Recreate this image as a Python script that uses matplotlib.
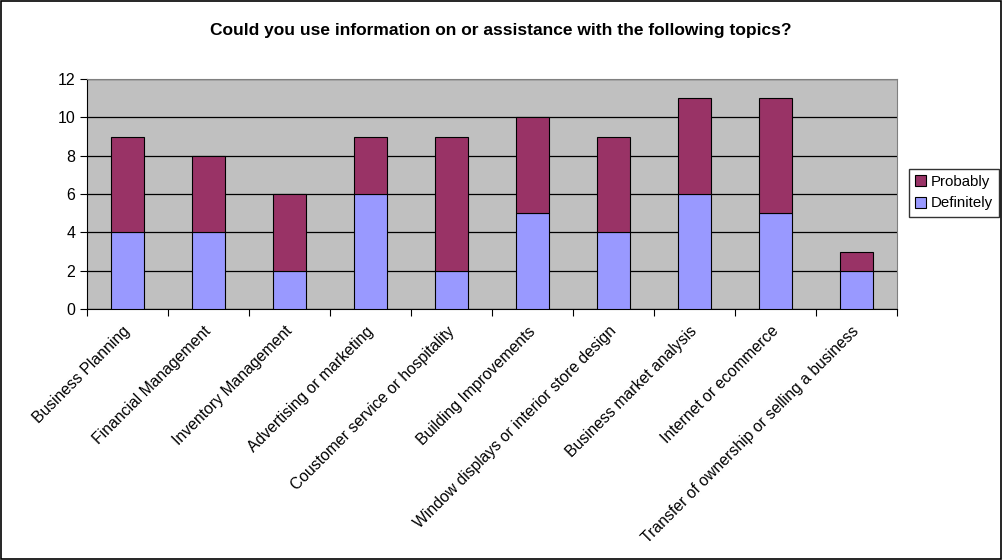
import matplotlib.pyplot as plt
import numpy as np
from matplotlib.transforms import ScaledTranslation

plt.rcParams['font.family'] = ['Liberation Sans', 'DejaVu Sans']

topics = ['Business Planning', 'Financial Management', 'Inventory Management',
          'Advertising or marketing', 'Coustomer service or hospitality',
          'Building Improvements', 'Window displays or interior store design',
          'Business market analysis', 'Internet or ecommerce',
          'Transfer of ownership or selling a business']
definitely = [4, 4, 2, 6, 2, 5, 4, 6, 5, 2]
probably = [5, 4, 4, 3, 7, 5, 5, 5, 6, 1]

fig = plt.figure(figsize=(10.02, 5.6), dpi=100)
ax = fig.add_axes([87 / 1002, 1 - 309 / 560, 810 / 1002, 230 / 560])
ax.set_facecolor('#C0C0C0')

x = np.arange(len(topics))
b1 = ax.bar(x, definitely, width=0.41, color='#9999FF', edgecolor='black',
            linewidth=0.8, label='Definitely', zorder=3)
b2 = ax.bar(x, probably, width=0.41, bottom=definitely, color='#993366',
            edgecolor='black', linewidth=0.8, label='Probably', zorder=3)

ax.set_xlim(-0.5, len(topics) - 0.5)
ax.set_ylim(0, 12)
ax.set_yticks(range(0, 13, 2))
ax.yaxis.grid(True, color='black', linewidth=0.9, zorder=1)
ax.set_axisbelow(True)

# category ticks sit between bars, like Excel
ax.set_xticks(np.arange(-0.5, len(topics), 1.0))
ax.set_xticklabels([])
ax.set_xticks(x, minor=True)
ax.set_xticklabels(topics, minor=True, rotation=45, ha='right',
                   rotation_mode='anchor', fontsize=11.3)
ax.tick_params(axis='x', which='minor', length=0, pad=9)
ax.tick_params(axis='x', which='major', length=5, direction='out', color='black')
ax.tick_params(axis='y', length=5, direction='out', labelsize=11.5)
shift = ScaledTranslation(-5 / 100, -2 / 100, fig.dpi_scale_trans)
for lbl in ax.get_xticklabels(minor=True):
    lbl.set_transform(lbl.get_transform() + shift)

for s in ['top', 'right']:
    ax.spines[s].set_color('#808080')
for s in ['left', 'bottom']:
    ax.spines[s].set_color('black')

fig.text(0.5, 1 - 31 / 560, 'Could you use information on or assistance with the following topics?',
         ha='center', va='center', fontsize=12.5, fontweight='bold')

fig.legend([b2, b1], ['Probably', 'Definitely'], loc='upper left',
           bbox_to_anchor=(909 / 1002, 1 - 169 / 560), fontsize=10.8,
           frameon=True, fancybox=False, edgecolor='black', handlelength=0.75,
           handleheight=0.75, handletextpad=0.3, borderpad=0.4, labelspacing=0.5,
           borderaxespad=0)

fig.patches.append(plt.Rectangle((0.001, 0.001), 0.998, 0.998, transform=fig.transFigure,
                                 fill=False, edgecolor='black', linewidth=1.2))

plt.savefig('out.png', dpi=100)
plt.close()
